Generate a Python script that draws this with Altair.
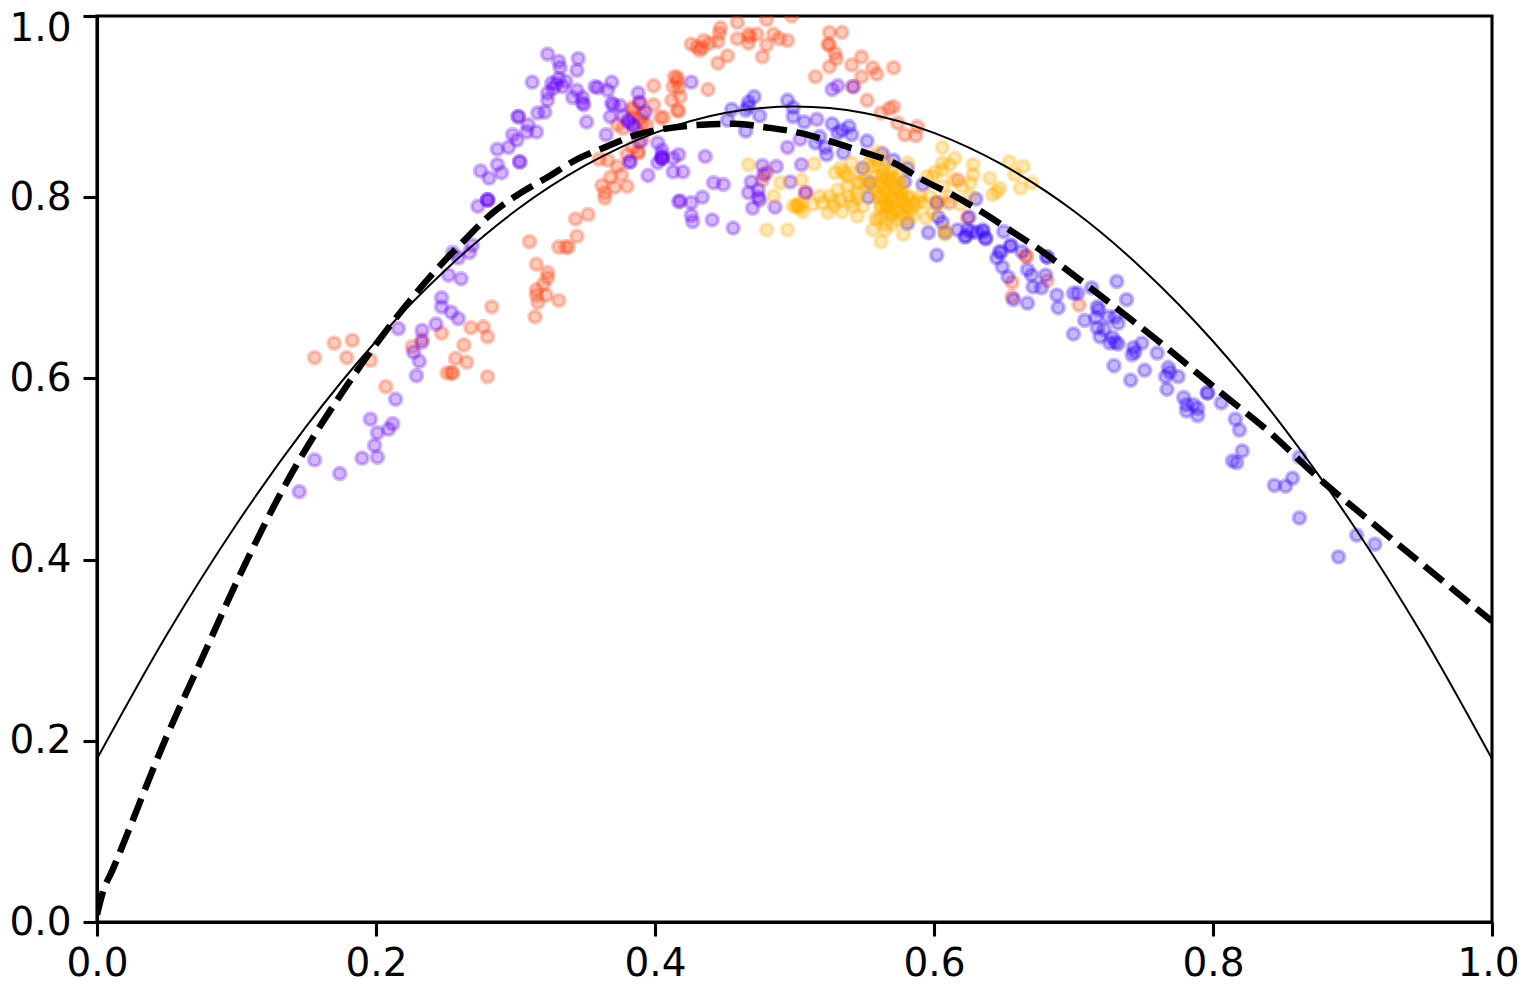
import altair as alt
import pandas as pd

# solid reference curve
thin_x = [0, .05, .1, .15, .2, .25, .3, .35, .4, .45, .5, .55, .6, .65, .7, .75, .8, .85, .9, .95, 1]
thin_y = [.18, .317, .439, .547, .641, .72, .785, .835, .871, .893, .9, .893, .871, .835, .785, .72, .641, .547, .439, .317, .18]

# dashed fitted curve
dash_x = [0, .004, .011, .05, .075, .1, .138, .176, .204, .248, .265, .28, .305, .323, .343, .364, .387, .409, .434, .457, .48, .504, .527, .549, .571, .592, .614, .635, .654, .674, .695, .733, .769, .805, .841, .875, .913, 1]
dash_y = [.008, .032, .057, .205, .29, .375, .491, .585, .646, .728, .755, .778, .806, .822, .841, .855, .869, .876, .88, .881, .877, .871, .861, .85, .838, .819, .802, .783, .764, .744, .72, .675, .631, .585, .54, .491, .442, .332]

purple_x = [.323,.331,.345,.344,.332,.312,.331,.326,.334,.323,.323,.344,.341,.348,.349,.348,.357,.359,.366,.369,.369,.370,.375,.368,.388,.389,.393,.377,.381,.384,.365,.351,.321,.316,.302,.302,.309,.315,.308,.298,.301,.295,.287,.303,.303,.287,.290,.275,.281,.280,.280,.280,.273,.395,.382,.382,.405,.405,.405,.402,.413,.417,.402,.405,.389,.417,
    .413,.436,.420,.442,.449,.418,.426,.434,.426,.427,.441,.456,.477,.487,.469,.470,.467,.474,.475,.474,.486,.478,.495,.505,.497,.508,.516,.504,.527,.531,.542,.426,
    .255,.259,.267,.269,.252,.261,.247,.247,.254,.259,.243,.233,.233,.227,.231,.229,.216,.214,.196,.212,.209,.201,.199,.201,.190,.174,.156,.145,
    .381,.385,.405,.329,.336,.327]
purple_y = [.958,.950,.953,.940,.943,.927,.931,.926,.922,.915,.907,.918,.910,.910,.902,.904,.922,.921,.918,.927,.904,.902,.901,.889,.915,.905,.894,.890,.883,.880,.869,.883,.894,.893,.889,.889,.880,.872,.872,.869,.863,.855,.853,.839,.839,.836,.827,.829,.821,.797,.797,.797,.790,.824,.839,.839,.843,.843,.843,.838,.828,.847,.860,.852,.861,.795,
    .843,.845,.828,.816,.814,.796,.794,.800,.780,.773,.775,.766,.835,.834,.817,.788,.805,.808,.797,.800,.789,.825,.855,.836,.817,.805,.886,.864,.919,.923,.922,.927,
    .739,.733,.739,.747,.714,.710,.689,.679,.673,.666,.660,.653,.640,.629,.619,.603,.655,.577,.555,.550,.544,.540,.526,.513,.512,.495,.510,.475,
    .885,.878,.846,.925,.928,.920]

blue_x = [.471,.467,.467,.465,.455,.452,.475,.465,.495,.499,.499,.507,.527,.539,.541,.531,.534,.552,.518,.515,.522,.523,.535,.563,.571,.581,.549,.554,.553,.579,.592,.581,.596,.602,.603,.606,.608,.602,.617,.623,.625,.630,.627,.635,.637,.650,.648,.655,
    .624,.631,.635,.637,.622,.655,.647,.645,.649,.653,.663,.667,.670,.680,.681,.681,.671,.677,.667,.657,.688,.689,.700,.703,.713,.731,.738,.700,.708,.717,.718,.716,.725,.732,.730,.717,.722,.719,.726,.730,.732,.728,.729,.741,.751,.743,.744,.742,.749,.760,.768,.769,.766,.775,.767,.796,.796,.806,.779,.781,.781,.786,.789,.789,.816,.819,.821,.814,.817,.844,.852,.857,.862,.862,.903,.916,.890]
blue_y = [.911,.905,.900,.896,.897,.885,.890,.873,.907,.899,.889,.883,.881,.878,.869,.871,.874,.862,.867,.860,.855,.847,.849,.848,.841,.832,.832,.816,.800,.817,.814,.771,.761,.794,.778,.772,.761,.736,.764,.757,.778,.798,.762,.762,.754,.762,.739,.746,
    .764,.761,.764,.755,.756,.747,.740,.733,.723,.712,.740,.720,.714,.714,.734,.734,.701,.700,.683,.687,.692,.678,.694,.694,.700,.707,.687,.649,.664,.679,.676,.667,.668,.661,.668,.656,.654,.646,.639,.640,.638,.645,.614,.598,.609,.634,.629,.626,.639,.628,.612,.607,.602,.602,.588,.584,.584,.573,.579,.571,.564,.571,.567,.559,.555,.543,.520,.509,.507,.482,.481,.490,.513,.446,.427,.417,.403]

red_x = [.399,.414,.416,.413,.412,.416,.399,.404,.389,.384,.391,.384,.373,.377,.391,.388,.391,.384,.388,.380,.360,.366,.373,.376,.368,.362,.380,.371,.364,.364,.352,.343,.344,.310,.331,.336,.338,
    .315,.323,.323,.320,.315,.315,.316,.322,.331,.314,.283,.268,.277,.280,.247,.263,.257,.265,.251,.255,.254,.280,.233,.226,.196,.207,.183,.170,.156,.179,
    .426,.430,.432,.435,.434,.439,.445,.447,.446,.459,.459,.452,.445,.467,.467,.468,.473,.477,.480,.480,.485,.489,.495,.498,.525,.534,.524,.525,.529,.530,.525,.515,.541,.548,.556,.559,.548,.571,.542,.552,.562,.571,.568,.574,.588,.579,.587,.438,.416,.417,.417,.406,.418,
    .656,.656,.681,.704,.666,.666,.624,.617,.480,.477,.508,.602,.611,
    .384,.389,.394,.388]
red_y = [.923,.933,.928,.922,.907,.896,.902,.888,.904,.896,.891,.888,.880,.876,.882,.871,.863,.855,.849,.847,.842,.841,.834,.825,.822,.813,.812,.811,.805,.799,.781,.776,.757,.751,.745,.745,.745,
    .726,.717,.711,.704,.698,.692,.684,.692,.686,.668,.679,.656,.657,.646,.650,.637,.622,.618,.606,.606,.606,.602,.643,.635,.620,.591,.642,.639,.623,.623,
    .969,.966,.962,.973,.965,.970,.972,.987,.981,.993,.975,.956,.948,.980,.970,.977,.980,.955,.968,.996,.980,.975,.973,1.0,.982,.982,.969,.968,.959,.953,.944,.933,.946,.955,.943,.936,.933,.943,.922,.907,.893,.900,.898,.882,.878,.869,.868,.919,.932,.921,.895,.888,.911,
    .706,.690,.708,.681,.735,.735,.777,.819,.827,.819,.805,.794,.794,
    .899,.886,.880,.850]

amber_x = [.467,.514,.606,.615,.611,.606,.628,.628,.654,.664,.658,.670,.662,.640,.647,.645,.642,.626,.620,.626,.606,.601,.595,.599,.614,.606,.611,.619,.604,.597,.590,.599,.594,.608,.578,.562,.556,.565,.558,.562,.569,.574,.581,.585,.562,.566,.566,.571,.576,.581,.568,.563,.559,.566,.563,.558,.563,.556,.559,.553,.547,.541,.535,.529,.538,.545,.552,.538,.531,.545,.539,.533,.525,.518,.513,.520,.528,.534,.545,.524,.506,.502,.502,.499,.505,.485,.490,.505,.480,.495,.549,.542,.556,.592,.569,.576,.581,.608,
    .559,.562,.565,.568,.571,.574,.577,.580,.583,.586,.589,.561,.564,.567,.570,.573,.576,.579,.582,.585,.563,.566,.569,.572,.575,.578,.581,.560,.564,.568,.572,.576,.562,.566,.570,.574,.560,.565,.570,.556,.560,.565,.570,.575,.502,.504,.533,.537,.547,.551,.528,.540,.545]
amber_y = [.836,.837,.855,.843,.836,.838,.836,.825,.839,.834,.825,.816,.810,.821,.810,.806,.803,.816,.812,.801,.830,.828,.823,.823,.819,.812,.801,.792,.794,.801,.801,.783,.777,.759,.759,.751,.764,.764,.777,.778,.783,.786,.789,.794,.790,.790,.790,.797,.797,.801,.801,.801,.800,.808,.816,.823,.823,.834,.841,.838,.827,.838,.828,.827,.823,.816,.812,.812,.808,.805,.801,.797,.801,.801,.792,.794,.790,.784,.779,.783,.784,.790,.790,.790,.794,.801,.816,.819,.764,.764,.790,.790,.812,.794,.819,.812,.838,.764,
    .805,.800,.795,.790,.785,.795,.800,.790,.785,.790,.795,.815,.810,.805,.800,.810,.805,.795,.800,.780,.825,.820,.815,.810,.785,.780,.775,.835,.830,.825,.820,.815,.790,.785,.780,.775,.775,.770,.770,.845,.850,.840,.830,.825,.792,.788,.832,.825,.816,.820,.795,.795,.800]


def pts(xs, ys, color):
    df = pd.DataFrame({"x": xs, "y": ys})
    return alt.Chart(df).mark_circle(
        size=145, fill=color, stroke=color, strokeWidth=3.8,
        fillOpacity=0.28, strokeOpacity=0.28, clip=True,
    ).encode(x=xe, y=ye)


xe = alt.X("x:Q", scale=alt.Scale(domain=[0, 1], nice=False),
           axis=alt.Axis(values=[0, .2, .4, .6, .8, 1], format=".1f", title=None, grid=False,
                         labelFont="DejaVu Sans", labelFontSize=39, labelColor="black",
                         labelPadding=8, tickSize=14, tickWidth=3.1, tickColor="black",
                         domainWidth=3.1, domainColor="black", labelFlush=False, labelOverlap=False,
                         labelOffset={"condition": {"test": "datum.value == 1", "value": -4}, "value": 0}))
ye = alt.Y("y:Q", scale=alt.Scale(domain=[0, 1], nice=False),
           axis=alt.Axis(values=[0, .2, .4, .6, .8, 1], format=".1f", title=None, grid=False,
                         labelFont="DejaVu Sans", labelFontSize=39, labelColor="black",
                         labelPadding=12, tickSize=14, tickWidth=3.1, tickColor="black",
                         domainWidth=3.1, domainColor="black", labelFlush=False, labelOverlap=False,
                         labelOffset={"condition": {"test": "datum.value == 1", "value": 12}, "value": 0}))

thin = alt.Chart(pd.DataFrame({"x": thin_x, "y": thin_y})).mark_line(
    color="black", strokeWidth=2, interpolate="monotone", clip=True).encode(x=xe, y=ye)
dash = alt.Chart(pd.DataFrame({"x": dash_x, "y": dash_y})).mark_line(
    color="black", strokeWidth=6.5, strokeDash=[24, 9.5], interpolate="monotone", clip=True).encode(x=xe, y=ye)

chart = alt.layer(
    pts(red_x, red_y, "#ff4411"),
    pts(purple_x, purple_y, "#6600ff"),
    pts(blue_x, blue_y, "#3300ff"),
    pts(amber_x, amber_y, "#ffb000"),
    thin, dash,
).properties(
    width=1395, height=906,
    autosize=alt.AutoSizeParams(type="none"),
    padding={"left": 89, "top": 8, "right": 28, "bottom": 61},
    background="white",
).configure_view(stroke="black", strokeWidth=3.1)

chart.save("out.html", embed_options={"renderer": "svg", "actions": False})
